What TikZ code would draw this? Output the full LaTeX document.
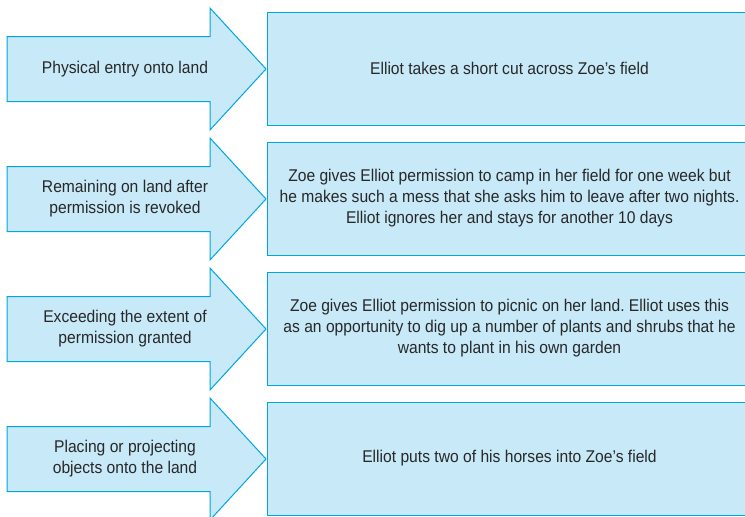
\documentclass[tikz,border=0pt]{standalone}
\usepackage{fontspec}
\setmainfont{Liberation Sans}[FakeStretch=0.92]
\frenchspacing
\definecolor{arrowline}{RGB}{0,165,225}
\definecolor{arrowfill}{RGB}{199,233,248}
\definecolor{textgray}{RGB}{40,40,40}
\begin{document}
\begin{tikzpicture}[x=1pt, y=-1pt,
        blockarrow/.style={draw=arrowline, fill=arrowfill, line width=1pt, line join=miter},
        eventbox/.style={draw=arrowline, fill=arrowfill, line width=1pt, minimum width=485pt, minimum height=113pt, inner sep=0pt},
        label/.style={text=textgray, align=center, font=\fontsize{17}{21}\selectfont}]
        \clip (0,0) rectangle (745,517);

        % Row 1: physical entry
        \begin{scope}[shift={(0,69)}]
            \draw[blockarrow] (7,-32.5) -- (210,-32.5) -- (210,-61) -- (266,0) -- (210,61) -- (210,32.5) -- (7,32.5) -- cycle;
            \node[label] (phys) at (125,0.5) {Physical entry onto land};
            \node[eventbox, label] (shortcut) at (509.5,-0.5) {Elliot takes a short cut across Zoe’s field};
        \end{scope}

        % Row 2: staying after permission ends
        \begin{scope}[shift={(0,199)}]
            \draw[blockarrow] (7,-32.5) -- (210,-32.5) -- (210,-61) -- (266,0) -- (210,61) -- (210,32.5) -- (7,32.5) -- cycle;
            \node[label] (remain) at (125,0) {Remaining on land after\\permission is revoked};
            \node[eventbox, label] (camp) at (509.5,-0.5) {Zoe gives Elliot permission to camp in her field for one week but\\he makes such a mess that she asks him to leave after two nights.\\Elliot ignores her and stays for another 10 days};
        \end{scope}

        % Row 3: going beyond the permission
        \begin{scope}[shift={(0,329)}]
            \draw[blockarrow] (7,-32.5) -- (210,-32.5) -- (210,-61) -- (266,0) -- (210,61) -- (210,32.5) -- (7,32.5) -- cycle;
            \node[label] (exceed) at (125,0) {Exceeding the extent of\\permission granted};
            \node[eventbox, label] (picnic) at (509.5,-0.5) {Zoe gives Elliot permission to picnic on her land. Elliot uses this\\as an opportunity to dig up a number of plants and shrubs that he\\wants to plant in his own garden};
        \end{scope}

        % Row 4: objects on the land
        \begin{scope}[shift={(0,459)}]
            \draw[blockarrow] (7,-32.5) -- (210,-32.5) -- (210,-61) -- (266,0) -- (210,61) -- (210,32.5) -- (7,32.5) -- cycle;
            \node[label] (place) at (125,0) {Placing or projecting\\objects onto the land};
            \node[eventbox, label] (horses) at (509.5,-0.5) {Elliot puts two of his horses into Zoe’s field};
        \end{scope}
    \end{tikzpicture}
\end{document}
